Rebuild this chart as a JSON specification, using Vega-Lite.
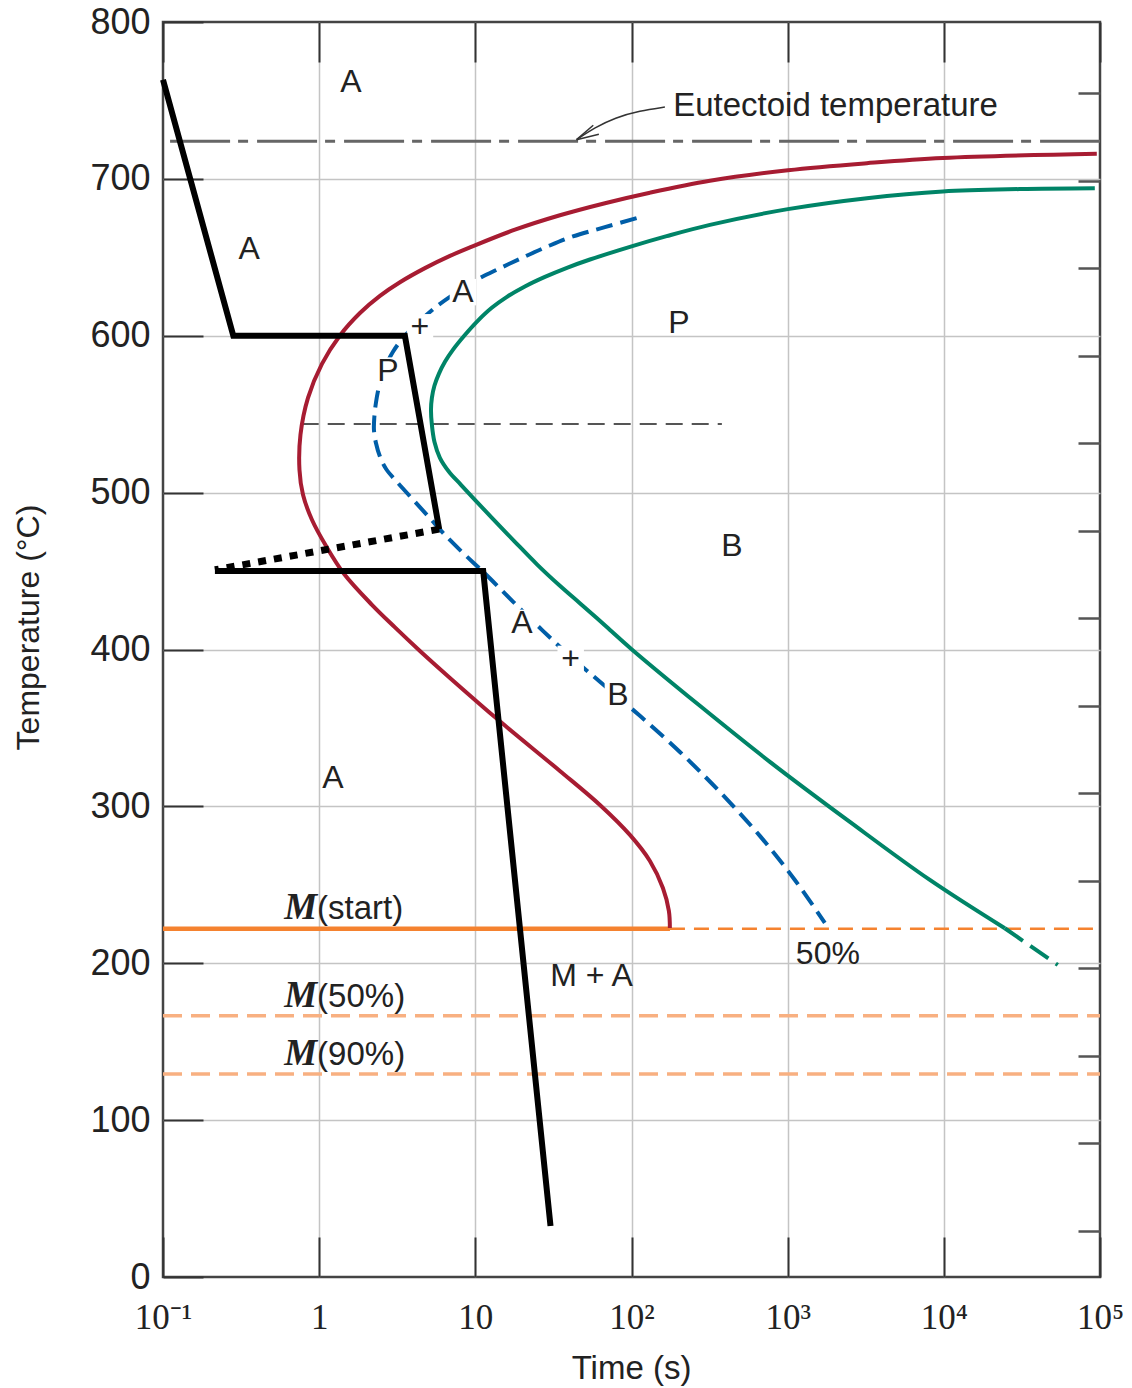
{
  "$schema": "https://vega.github.io/schema/vega-lite/v6.json",
  "width": 937,
  "height": 1255,
  "autosize": {"type": "none"},
  "padding": {"left": 163, "top": 22, "right": 32, "bottom": 111},
  "background": "white",
  "config": {
    "font": "Liberation Sans",
    "view": {"stroke": "#444", "strokeWidth": 2.5},
    "text": {"font": "Liberation Sans", "color": "#222"}
  },
  "datasets": {
    "lines": [
      {"id": "iso", "i": 0, "t": 0.773, "T": 543.7},
      {"id": "iso", "i": 1, "t": 379, "T": 543.7},
      {"id": "eut", "i": 0, "t": 0.111, "T": 724},
      {"id": "eut", "i": 1, "t": 100000, "T": 724},
      {"id": "mstart", "i": 0, "t": 0.1, "T": 222},
      {"id": "mstart", "i": 1, "t": 176.3, "T": 222},
      {"id": "mstartDash", "i": 0, "t": 176.3, "T": 222},
      {"id": "mstartDash", "i": 1, "t": 100000, "T": 222},
      {"id": "m50", "i": 0, "t": 0.1, "T": 166.6},
      {"id": "m50", "i": 1, "t": 100000, "T": 166.6},
      {"id": "m90", "i": 0, "t": 0.1, "T": 129.4},
      {"id": "m90", "i": 1, "t": 100000, "T": 129.4},

      {"id": "red", "i": 0, "t": 95400, "T": 716.0},
      {"id": "red", "i": 1, "t": 9854, "T": 713.3},
      {"id": "red", "i": 2, "t": 3214, "T": 710.0},
      {"id": "red", "i": 3, "t": 1003, "T": 705.5},
      {"id": "red", "i": 4, "t": 317.7, "T": 698.8},
      {"id": "red", "i": 5, "t": 131.2, "T": 691.2},
      {"id": "red", "i": 6, "t": 67.6, "T": 684.5},
      {"id": "red", "i": 7, "t": 34.8, "T": 676.8},
      {"id": "red", "i": 8, "t": 17.93, "T": 667.6},
      {"id": "red", "i": 9, "t": 9.23, "T": 656.3},
      {"id": "red", "i": 10, "t": 6.88, "T": 650.9},
      {"id": "red", "i": 11, "t": 4.757, "T": 643.1},
      {"id": "red", "i": 12, "t": 3.291, "T": 634.1},
      {"id": "red", "i": 13, "t": 2.45, "T": 625.4},
      {"id": "red", "i": 14, "t": 1.825, "T": 614.5},
      {"id": "red", "i": 15, "t": 1.359, "T": 600.2},
      {"id": "red", "i": 16, "t": 1.042, "T": 582.1},
      {"id": "red", "i": 17, "t": 0.848, "T": 560.4},
      {"id": "red", "i": 18, "t": 0.759, "T": 536.9},
      {"id": "red", "i": 19, "t": 0.748, "T": 514.5},
      {"id": "red", "i": 20, "t": 0.788, "T": 498.6},
      {"id": "red", "i": 21, "t": 0.899, "T": 482.7},
      {"id": "red", "i": 22, "t": 1.105, "T": 466.1},
      {"id": "red", "i": 23, "t": 1.441, "T": 448.3},
      {"id": "red", "i": 24, "t": 2.178, "T": 428.5},
      {"id": "red", "i": 25, "t": 3.058, "T": 414.1},
      {"id": "red", "i": 26, "t": 4.42, "T": 399.1},
      {"id": "red", "i": 27, "t": 6.88, "T": 381.9},
      {"id": "red", "i": 28, "t": 14.37, "T": 354.2},
      {"id": "red", "i": 29, "t": 34.8, "T": 322.6},
      {"id": "red", "i": 30, "t": 62.8, "T": 300.9},
      {"id": "red", "i": 31, "t": 97.7, "T": 281.8},
      {"id": "red", "i": 32, "t": 131.2, "T": 265.2},
      {"id": "red", "i": 33, "t": 158.9, "T": 248.0},
      {"id": "red", "i": 34, "t": 173.5, "T": 233.4},
      {"id": "red", "i": 35, "t": 176.1, "T": 222.5},

      {"id": "green", "i": 0, "t": 92620, "T": 694.0},
      {"id": "green", "i": 1, "t": 30670, "T": 693.5},
      {"id": "green", "i": 2, "t": 9854, "T": 692.0},
      {"id": "green", "i": 3, "t": 3214, "T": 687.7},
      {"id": "green", "i": 4, "t": 1003, "T": 680.7},
      {"id": "green", "i": 5, "t": 317.7, "T": 670.7},
      {"id": "green", "i": 6, "t": 167.8, "T": 663.5},
      {"id": "green", "i": 7, "t": 100.1, "T": 657.0},
      {"id": "green", "i": 8, "t": 54.2, "T": 648.6},
      {"id": "green", "i": 9, "t": 38.6, "T": 643.3},
      {"id": "green", "i": 10, "t": 27.9, "T": 637.5},
      {"id": "green", "i": 11, "t": 20.77, "T": 631.4},
      {"id": "green", "i": 12, "t": 15.94, "T": 624.8},
      {"id": "green", "i": 13, "t": 12.74, "T": 617.8},
      {"id": "green", "i": 14, "t": 10.36, "T": 609.5},
      {"id": "green", "i": 15, "t": 8.49, "T": 600.0},
      {"id": "green", "i": 16, "t": 7.18, "T": 591.0},
      {"id": "green", "i": 17, "t": 6.39, "T": 583.4},
      {"id": "green", "i": 18, "t": 5.84, "T": 575.7},
      {"id": "green", "i": 19, "t": 5.47, "T": 568.1},
      {"id": "green", "i": 20, "t": 5.27, "T": 560.4},
      {"id": "green", "i": 21, "t": 5.2, "T": 552.8},
      {"id": "green", "i": 22, "t": 5.27, "T": 543.2},
      {"id": "green", "i": 23, "t": 5.47, "T": 532.4},
      {"id": "green", "i": 24, "t": 5.93, "T": 522.2},
      {"id": "green", "i": 25, "t": 6.78, "T": 513.3},
      {"id": "green", "i": 26, "t": 8.09, "T": 505.0},
      {"id": "green", "i": 27, "t": 9.94, "T": 495.4},
      {"id": "green", "i": 28, "t": 12.77, "T": 483.9},
      {"id": "green", "i": 29, "t": 17.67, "T": 469.3},
      {"id": "green", "i": 30, "t": 24.8, "T": 454.3},
      {"id": "green", "i": 31, "t": 34.8, "T": 440.6},
      {"id": "green", "i": 32, "t": 46.7, "T": 429.5},
      {"id": "green", "i": 33, "t": 68.6, "T": 414.8},
      {"id": "green", "i": 34, "t": 100.1, "T": 400.2},
      {"id": "green", "i": 35, "t": 274.1, "T": 364.1},
      {"id": "green", "i": 36, "t": 769.2, "T": 328.4},
      {"id": "green", "i": 37, "t": 2502, "T": 290.1},
      {"id": "green", "i": 38, "t": 8138, "T": 253.1},
      {"id": "green", "i": 39, "t": 24570, "T": 222.3},
      {"id": "greenTail", "i": 0, "t": 24570, "T": 222.3},
      {"id": "greenTail", "i": 1, "t": 53690, "T": 198.9},

      {"id": "blue", "i": 0, "t": 107.8, "T": 675.0},
      {"id": "blue", "i": 1, "t": 67.55, "T": 669.2},
      {"id": "blue", "i": 2, "t": 42.15, "T": 663.3},
      {"id": "blue", "i": 3, "t": 29.16, "T": 657.0},
      {"id": "blue", "i": 4, "t": 20.26, "T": 650.0},
      {"id": "blue", "i": 5, "t": 14.37, "T": 643.0},
      {"id": "blue", "i": 6, "t": 10.19, "T": 635.7},
      {"id": "blue", "i": 7, "t": 7.51, "T": 627.4},
      {"id": "blue", "i": 8, "t": 5.65, "T": 618.7},
      {"id": "blue", "i": 9, "t": 4.29, "T": 608.3},
      {"id": "blue", "i": 10, "t": 3.49, "T": 599.3},
      {"id": "blue", "i": 11, "t": 2.97, "T": 589.8},
      {"id": "blue", "i": 12, "t": 2.64, "T": 579.6},
      {"id": "blue", "i": 13, "t": 2.432, "T": 568.7},
      {"id": "blue", "i": 14, "t": 2.31, "T": 557.3},
      {"id": "blue", "i": 15, "t": 2.254, "T": 547.7},
      {"id": "blue", "i": 16, "t": 2.243, "T": 540.0},
      {"id": "blue", "i": 17, "t": 2.31, "T": 531.6},
      {"id": "blue", "i": 18, "t": 2.45, "T": 523.0},
      {"id": "blue", "i": 19, "t": 2.677, "T": 515.2},
      {"id": "blue", "i": 20, "t": 3.134, "T": 507.1},
      {"id": "blue", "i": 21, "t": 4.003, "T": 495.4},
      {"id": "blue", "i": 22, "t": 5.12, "T": 483.7},
      {"id": "blue", "i": 23, "t": 6.23, "T": 474.2},
      {"id": "blue", "i": 24, "t": 8.37, "T": 461.4},
      {"id": "blue", "i": 25, "t": 11.23, "T": 449.5},
      {"id": "blue", "i": 26, "t": 17.48, "T": 430.4},
      {"id": "blue", "i": 27, "t": 27.09, "T": 411.9},
      {"id": "blue", "i": 28, "t": 40.33, "T": 395.9},
      {"id": "blue", "i": 29, "t": 62.8, "T": 379.4},
      {"id": "blue", "i": 30, "t": 113.2, "T": 357.7},
      {"id": "blue", "i": 31, "t": 204.1, "T": 334.7},
      {"id": "blue", "i": 32, "t": 368.1, "T": 309.2},
      {"id": "blue", "i": 33, "t": 663.7, "T": 281.2},
      {"id": "blue", "i": 34, "t": 1112, "T": 253.1},
      {"id": "blue", "i": 35, "t": 1730, "T": 225.7},

      {"id": "k1", "i": 0, "t": 0.1, "T": 763.2},
      {"id": "k1", "i": 1, "t": 0.282, "T": 600},
      {"id": "k1", "i": 2, "t": 3.54, "T": 600},
      {"id": "k1", "i": 3, "t": 5.87, "T": 476.7},
      {"id": "k2", "i": 0, "t": 0.215, "T": 450},
      {"id": "k2", "i": 1, "t": 11.23, "T": 450},
      {"id": "k2", "i": 2, "t": 30.3, "T": 32.5},
      {"id": "kd", "i": 0, "t": 5.87, "T": 476.7},
      {"id": "kd", "i": 1, "t": 0.215, "T": 450.8},

      {"id": "arr", "i": 0, "t": 163.6, "T": 745.8},
      {"id": "arr", "i": 1, "t": 113.2, "T": 743.4},
      {"id": "arr", "i": 2, "t": 78.3, "T": 739},
      {"id": "arr", "i": 3, "t": 58.3, "T": 732.7},
      {"id": "arr", "i": 4, "t": 44.5, "T": 725},
      {"id": "barb1", "i": 0, "t": 44.5, "T": 725},
      {"id": "barb1", "i": 1, "t": 56.9, "T": 734.2},
      {"id": "barb2", "i": 0, "t": 44.5, "T": 725},
      {"id": "barb2", "i": 1, "t": 61.8, "T": 728.4}
    ],
    "labels": [
      {"kind": "c", "text": "A", "t": 1.598, "T": 761.9},
      {"kind": "c", "text": "A", "t": 0.3563, "T": 655.4},
      {"kind": "c", "text": "A", "t": 8.33, "T": 627.8, "bg": true},
      {"kind": "c", "text": "+", "t": 4.42, "T": 605.4, "bg": true},
      {"kind": "c", "text": "P", "t": 2.757, "T": 577.8, "bg": true},
      {"kind": "c", "text": "P", "t": 201, "T": 608.3},
      {"kind": "c", "text": "B", "t": 439, "T": 466.1},
      {"kind": "c", "text": "A", "t": 19.9, "T": 417, "bg": true},
      {"kind": "c", "text": "+", "t": 40.8, "T": 394, "bg": true},
      {"kind": "c", "text": "B", "t": 81.8, "T": 371.1, "bg": true},
      {"kind": "c", "text": "A", "t": 1.225, "T": 318.2},
      {"kind": "c", "text": "M + A", "t": 55.5, "T": 192},
      {"kind": "c", "text": "50%", "t": 1809, "T": 205.9},
      {"kind": "m", "text": "M", "t": 0.97, "T": 228.3},
      {"kind": "m", "text": "M", "t": 0.97, "T": 172.3},
      {"kind": "m", "text": "M", "t": 0.97, "T": 135.2},
      {"kind": "p", "text": "(start)", "t": 0.97, "T": 228.3},
      {"kind": "p", "text": "(50%)", "t": 0.97, "T": 172.3},
      {"kind": "p", "text": "(90%)", "t": 0.97, "T": 135.2},
      {"kind": "e", "text": "Eutectoid temperature", "t": 184.9, "T": 739.8}
    ]
  },
  "encoding": {
    "x": {"field": "t", "type": "quantitative", "scale": {"type": "log", "domain": [0.1, 100000], "nice": false}, "axis": null},
    "y": {"field": "T", "type": "quantitative", "scale": {"domain": [0, 800], "nice": false, "zero": false}, "axis": null}
  },
  "resolve": {"axis": {"x": "independent", "y": "independent"}},
  "layer": [
    {
      "data": {"name": "lines"},
      "transform": [{"filter": "datum.id === 'iso'"}],
      "mark": {"type": "line", "color": "#555", "strokeWidth": 2, "strokeDash": [17, 9]},
      "encoding": {
        "x": {
          "field": "t", "type": "quantitative",
          "scale": {"type": "log", "domain": [0.1, 100000], "nice": false},
          "axis": {
            "orient": "bottom",
            "values": [0.1, 1, 10, 100, 1000, 10000, 100000],
            "grid": true, "gridColor": "#c4c4c4", "gridWidth": 1.5,
            "gridOpacity": {"condition": {"test": "datum.value <= 0.1 || datum.value >= 100000", "value": 0}, "value": 1},
            "domain": false,
            "ticks": true, "tickSize": -40, "tickColor": "#333", "tickWidth": 2,
            "labelPadding": 63, "labelFont": "Liberation Sans Narrow", "labelFontSize": 35, "labelColor": "#222",
            "labelFlush": false, "labelOverlap": false, "labelBaseline": "top",
            "labelExpr": "datum.value < 0.5 ? '10⁻¹' : datum.value < 5 ? '1' : datum.value < 50 ? '10' : datum.value < 500 ? '10²' : datum.value < 5000 ? '10³' : datum.value < 50000 ? '10⁴' : '10⁵'",
            "title": "Time (s)", "titleFont": "Liberation Sans", "titleFontSize": 33, "titleFontWeight": "normal", "titleColor": "#222",
            "titleX": 468, "titleY": 91, "titleBaseline": "middle", "titleAlign": "center"
          }
        },
        "y": {
          "field": "T", "type": "quantitative",
          "scale": {"domain": [0, 800], "nice": false, "zero": false},
          "axis": {
            "orient": "left",
            "values": [0, 100, 200, 300, 400, 500, 600, 700, 800],
            "grid": true, "gridColor": "#c4c4c4", "gridWidth": 1.5,
            "gridOpacity": {"condition": {"test": "datum.value <= 0 || datum.value >= 800", "value": 0}, "value": 1},
            "domain": false,
            "ticks": true, "tickSize": -40, "tickColor": "#333", "tickWidth": 2,
            "labelPadding": 53, "labelFont": "Liberation Sans", "labelFontSize": 36, "labelColor": "#222",
            "labelFlush": false, "labelOverlap": false,
            "title": "Temperature (°C)", "titleFont": "Liberation Sans", "titleFontSize": 32, "titleFontWeight": "normal", "titleColor": "#222",
            "titleAngle": -90, "titleX": -135, "titleY": 605, "titleBaseline": "middle", "titleAlign": "center"
          }
        }
      }
    },
    {
      "data": {"name": "lines"},
      "transform": [{"filter": "datum.id === 'eut'"}],
      "mark": {"type": "line", "color": "#666", "strokeWidth": 3, "strokeDash": [60, 8, 10, 9]},
      "encoding": {
        "x": {
          "field": "t", "type": "quantitative",
          "scale": {"type": "log", "domain": [0.1, 100000], "nice": false},
          "axis": {
            "orient": "top", "values": [0.1, 1, 10, 100, 1000, 10000, 100000],
            "grid": false, "domain": false, "labels": false,
            "ticks": true, "tickSize": -40, "tickColor": "#333", "tickWidth": 2, "title": null
          }
        },
        "y": {
          "field": "T", "type": "quantitative",
          "scale": {"domain": [0, 800], "nice": false, "zero": false},
          "axis": {
            "orient": "right",
            "values": [29.3, 85.1, 140.9, 196.7, 252.5, 308.3, 364.1, 419.9, 475.7, 531.5, 587.3, 643.1, 698.9, 754.7],
            "grid": false, "domain": false, "labels": false,
            "ticks": true, "tickSize": -22, "tickColor": "#555", "tickWidth": 2.5, "title": null
          }
        }
      }
    },
    {
      "data": {"name": "lines"},
      "transform": [{"filter": "datum.id === 'm50' || datum.id === 'm90'"}],
      "mark": {"type": "line", "color": "#F8B081", "strokeWidth": 3.5, "strokeDash": [19, 9]},
      "encoding": {"detail": {"field": "id"}, "order": {"field": "i"}}
    },
    {
      "data": {"name": "lines"},
      "transform": [{"filter": "datum.id === 'mstartDash'"}],
      "mark": {"type": "line", "color": "#F5822F", "strokeWidth": 2.5, "strokeDash": [15, 9]},
      "encoding": {"order": {"field": "i"}}
    },
    {
      "data": {"name": "lines"},
      "transform": [{"filter": "datum.id === 'mstart'"}],
      "mark": {"type": "line", "color": "#F5822F", "strokeWidth": 4.5},
      "encoding": {"order": {"field": "i"}}
    },
    {
      "data": {"name": "lines"},
      "transform": [{"filter": "datum.id === 'red'"}],
      "mark": {"type": "line", "color": "#A71C32", "strokeWidth": 4, "interpolate": "catmull-rom"},
      "encoding": {"order": {"field": "i"}}
    },
    {
      "data": {"name": "lines"},
      "transform": [{"filter": "datum.id === 'green'"}],
      "mark": {"type": "line", "color": "#008467", "strokeWidth": 4, "interpolate": "catmull-rom"},
      "encoding": {"order": {"field": "i"}}
    },
    {
      "data": {"name": "lines"},
      "transform": [{"filter": "datum.id === 'greenTail'"}],
      "mark": {"type": "line", "color": "#008467", "strokeWidth": 4, "strokeDash": [22, 9]},
      "encoding": {"order": {"field": "i"}}
    },
    {
      "data": {"name": "lines"},
      "transform": [{"filter": "datum.id === 'blue'"}],
      "mark": {"type": "line", "color": "#005EA8", "strokeWidth": 4, "strokeDash": [17, 8], "interpolate": "catmull-rom"},
      "encoding": {"order": {"field": "i"}}
    },
    {
      "data": {"name": "labels"},
      "transform": [{"filter": "datum.bg === true"}],
      "mark": {"type": "point", "shape": "square", "filled": true, "color": "white", "opacity": 1, "size": 700}
    },
    {
      "data": {"name": "lines"},
      "transform": [{"filter": "datum.id === 'k1' || datum.id === 'k2'"}],
      "mark": {"type": "line", "color": "black", "strokeWidth": 6, "strokeJoin": "miter"},
      "encoding": {"detail": {"field": "id"}, "order": {"field": "i"}}
    },
    {
      "data": {"name": "lines"},
      "transform": [{"filter": "datum.id === 'kd'"}],
      "mark": {"type": "line", "color": "black", "strokeWidth": 7, "strokeDash": [8, 8]},
      "encoding": {"order": {"field": "i"}}
    },
    {
      "data": {"name": "lines"},
      "transform": [{"filter": "datum.id === 'arr'"}],
      "mark": {"type": "line", "color": "#333", "strokeWidth": 1.5, "interpolate": "basis"},
      "encoding": {"order": {"field": "i"}}
    },
    {
      "data": {"name": "lines"},
      "transform": [{"filter": "datum.id === 'barb1' || datum.id === 'barb2'"}],
      "mark": {"type": "line", "color": "#333", "strokeWidth": 1.5},
      "encoding": {"detail": {"field": "id"}, "order": {"field": "i"}}
    },
    {
      "data": {"name": "labels"},
      "transform": [{"filter": "datum.kind === 'c'"}],
      "mark": {"type": "text", "font": "Liberation Sans", "fontSize": 32, "align": "center", "baseline": "middle", "color": "#222"},
      "encoding": {"text": {"field": "text"}}
    },
    {
      "data": {"name": "labels"},
      "transform": [{"filter": "datum.kind === 'm'"}],
      "mark": {"type": "text", "font": "Liberation Serif", "fontSize": 37, "fontStyle": "italic", "fontWeight": "bold", "align": "right", "baseline": "alphabetic", "color": "#222"},
      "encoding": {"text": {"field": "text"}}
    },
    {
      "data": {"name": "labels"},
      "transform": [{"filter": "datum.kind === 'p'"}],
      "mark": {"type": "text", "font": "Liberation Sans", "fontSize": 33, "align": "left", "baseline": "alphabetic", "color": "#222"},
      "encoding": {"text": {"field": "text"}}
    },
    {
      "data": {"name": "labels"},
      "transform": [{"filter": "datum.kind === 'e'"}],
      "mark": {"type": "text", "font": "Liberation Sans", "fontSize": 33, "align": "left", "baseline": "alphabetic", "color": "#222"},
      "encoding": {"text": {"field": "text"}}
    }
  ]
}
